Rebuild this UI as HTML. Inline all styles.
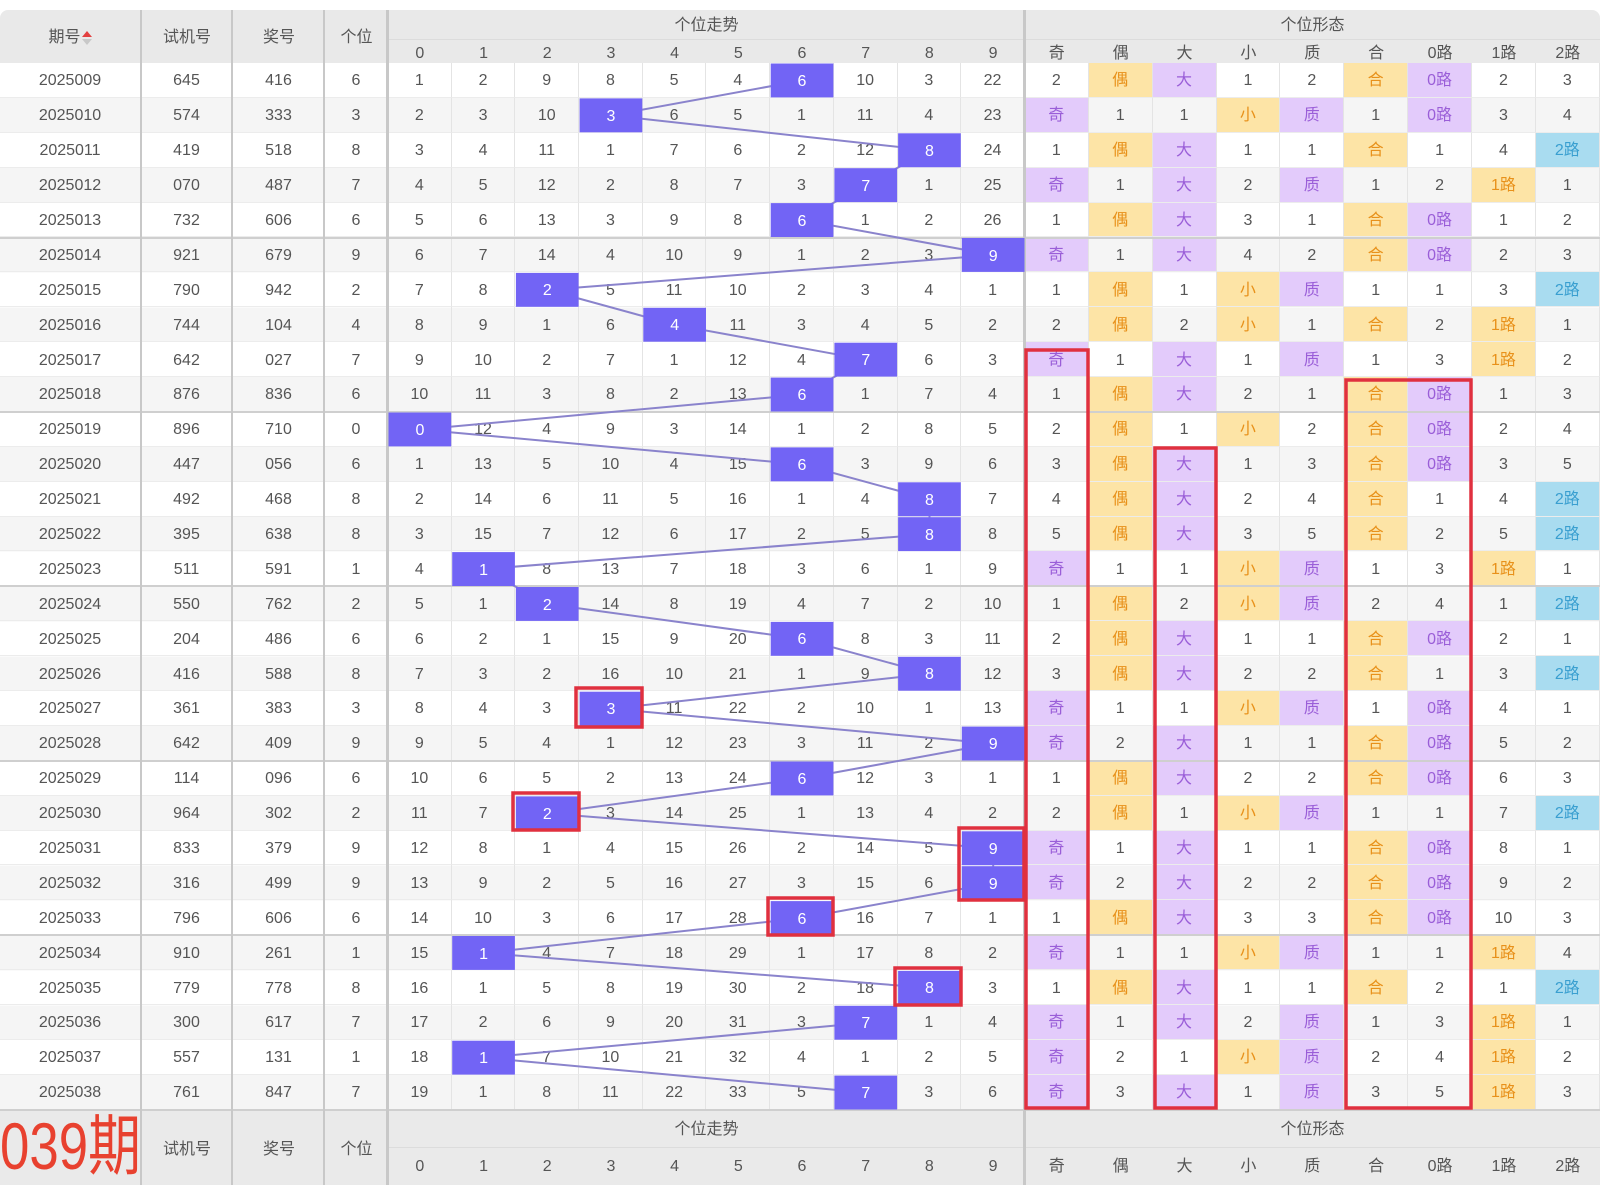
<!DOCTYPE html>
<html><head><meta charset="utf-8">
<style>
*{margin:0;padding:0;box-sizing:border-box}
body{width:1600px;height:1192px;background:#fff;position:relative;overflow:hidden;font-family:"Liberation Sans","Noto Sans CJK SC",sans-serif;color:#555;font-size:16px;line-height:20px}
.hd{position:absolute;left:0;top:10px;width:1600px;height:53px;background:#e9e9e9;border-radius:8px 8px 0 0}
.t{position:absolute;text-align:center;white-space:nowrap}
#g{position:absolute;left:0;top:63px;width:1600px;display:grid;grid-template-columns:141px 92px 92px 63px repeat(10,63.7px) repeat(9,63.889px);grid-auto-rows:34.9px;background:repeating-linear-gradient(#fff 0,#fff 34.9px,#f5f5f5 34.9px,#f5f5f5 69.8px)}
#g i{font-style:normal;display:flex;align-items:center;justify-content:center;padding-top:3px;border-right:1px solid #e4e4e4;border-bottom:1px solid #ececec}
#g i.p{background:#e3cbfb;color:#9a5ed8}
#g i.y{background:#fde4a6;color:#e8911a}
#g i.b{background:#a9dcf0;color:#3a9fd0}
.vl{position:absolute;width:2px;background:#c8c8c8}
.hl{position:absolute;left:0;width:1600px;height:2px;background:#cfcfcf}
.ft{position:absolute;left:0;top:1111px;width:1600px;height:74px;background:#eaeaea}
.hg{position:absolute;left:388px;width:1212px;display:grid;grid-template-columns:repeat(10,63.7px) repeat(9,63.889px);text-align:center}
</style></head><body>
<div class="hd"></div>
<div class="t" style="left:0;width:141px;top:28px">期号<span style="display:inline-block;width:12px;height:14px;position:relative;vertical-align:middle"><span style="position:absolute;left:1px;top:0;border:5px solid transparent;border-bottom:6px solid #e34040;border-top:0"></span><span style="position:absolute;left:1px;top:8px;border:5px solid transparent;border-top:6px solid #c8c8c8;border-bottom:0"></span></span></div>
<div class="t" style="left:141px;width:92px;top:28px">试机号</div>
<div class="t" style="left:233px;width:92px;top:28px">奖号</div>
<div class="t" style="left:325px;width:63px;top:28px">个位</div>
<div class="t" style="left:388px;width:637px;top:16px">个位走势</div>
<div class="t" style="left:1025px;width:575px;top:16px">个位形态</div>
<div style="position:absolute;left:388px;top:39px;width:1212px;height:1px;background:#dcdcdc"></div>
<div class="hg" style="top:44px">
<div>0</div><div>1</div><div>2</div><div>3</div><div>4</div><div>5</div><div>6</div><div>7</div><div>8</div><div>9</div><div>奇</div><div>偶</div><div>大</div><div>小</div><div>质</div><div>合</div><div>0路</div><div>1路</div><div>2路</div>
</div>
<div id="g">
<i>2025009</i><i>645</i><i>416</i><i>6</i><i>1</i><i>2</i><i>9</i><i>8</i><i>5</i><i>4</i><i></i><i>10</i><i>3</i><i>22</i><i>2</i><i class=y>偶</i><i class=p>大</i><i>1</i><i>2</i><i class=y>合</i><i class=p>0路</i><i>2</i><i>3</i>
<i>2025010</i><i>574</i><i>333</i><i>3</i><i>2</i><i>3</i><i>10</i><i></i><i>6</i><i>5</i><i>1</i><i>11</i><i>4</i><i>23</i><i class=p>奇</i><i>1</i><i>1</i><i class=y>小</i><i class=p>质</i><i>1</i><i class=p>0路</i><i>3</i><i>4</i>
<i>2025011</i><i>419</i><i>518</i><i>8</i><i>3</i><i>4</i><i>11</i><i>1</i><i>7</i><i>6</i><i>2</i><i>12</i><i></i><i>24</i><i>1</i><i class=y>偶</i><i class=p>大</i><i>1</i><i>1</i><i class=y>合</i><i>1</i><i>4</i><i class=b>2路</i>
<i>2025012</i><i>070</i><i>487</i><i>7</i><i>4</i><i>5</i><i>12</i><i>2</i><i>8</i><i>7</i><i>3</i><i></i><i>1</i><i>25</i><i class=p>奇</i><i>1</i><i class=p>大</i><i>2</i><i class=p>质</i><i>1</i><i>2</i><i class=y>1路</i><i>1</i>
<i>2025013</i><i>732</i><i>606</i><i>6</i><i>5</i><i>6</i><i>13</i><i>3</i><i>9</i><i>8</i><i></i><i>1</i><i>2</i><i>26</i><i>1</i><i class=y>偶</i><i class=p>大</i><i>3</i><i>1</i><i class=y>合</i><i class=p>0路</i><i>1</i><i>2</i>
<i>2025014</i><i>921</i><i>679</i><i>9</i><i>6</i><i>7</i><i>14</i><i>4</i><i>10</i><i>9</i><i>1</i><i>2</i><i>3</i><i></i><i class=p>奇</i><i>1</i><i class=p>大</i><i>4</i><i>2</i><i class=y>合</i><i class=p>0路</i><i>2</i><i>3</i>
<i>2025015</i><i>790</i><i>942</i><i>2</i><i>7</i><i>8</i><i></i><i>5</i><i>11</i><i>10</i><i>2</i><i>3</i><i>4</i><i>1</i><i>1</i><i class=y>偶</i><i>1</i><i class=y>小</i><i class=p>质</i><i>1</i><i>1</i><i>3</i><i class=b>2路</i>
<i>2025016</i><i>744</i><i>104</i><i>4</i><i>8</i><i>9</i><i>1</i><i>6</i><i></i><i>11</i><i>3</i><i>4</i><i>5</i><i>2</i><i>2</i><i class=y>偶</i><i>2</i><i class=y>小</i><i>1</i><i class=y>合</i><i>2</i><i class=y>1路</i><i>1</i>
<i>2025017</i><i>642</i><i>027</i><i>7</i><i>9</i><i>10</i><i>2</i><i>7</i><i>1</i><i>12</i><i>4</i><i></i><i>6</i><i>3</i><i class=p>奇</i><i>1</i><i class=p>大</i><i>1</i><i class=p>质</i><i>1</i><i>3</i><i class=y>1路</i><i>2</i>
<i>2025018</i><i>876</i><i>836</i><i>6</i><i>10</i><i>11</i><i>3</i><i>8</i><i>2</i><i>13</i><i></i><i>1</i><i>7</i><i>4</i><i>1</i><i class=y>偶</i><i class=p>大</i><i>2</i><i>1</i><i class=y>合</i><i class=p>0路</i><i>1</i><i>3</i>
<i>2025019</i><i>896</i><i>710</i><i>0</i><i></i><i>12</i><i>4</i><i>9</i><i>3</i><i>14</i><i>1</i><i>2</i><i>8</i><i>5</i><i>2</i><i class=y>偶</i><i>1</i><i class=y>小</i><i>2</i><i class=y>合</i><i class=p>0路</i><i>2</i><i>4</i>
<i>2025020</i><i>447</i><i>056</i><i>6</i><i>1</i><i>13</i><i>5</i><i>10</i><i>4</i><i>15</i><i></i><i>3</i><i>9</i><i>6</i><i>3</i><i class=y>偶</i><i class=p>大</i><i>1</i><i>3</i><i class=y>合</i><i class=p>0路</i><i>3</i><i>5</i>
<i>2025021</i><i>492</i><i>468</i><i>8</i><i>2</i><i>14</i><i>6</i><i>11</i><i>5</i><i>16</i><i>1</i><i>4</i><i></i><i>7</i><i>4</i><i class=y>偶</i><i class=p>大</i><i>2</i><i>4</i><i class=y>合</i><i>1</i><i>4</i><i class=b>2路</i>
<i>2025022</i><i>395</i><i>638</i><i>8</i><i>3</i><i>15</i><i>7</i><i>12</i><i>6</i><i>17</i><i>2</i><i>5</i><i></i><i>8</i><i>5</i><i class=y>偶</i><i class=p>大</i><i>3</i><i>5</i><i class=y>合</i><i>2</i><i>5</i><i class=b>2路</i>
<i>2025023</i><i>511</i><i>591</i><i>1</i><i>4</i><i></i><i>8</i><i>13</i><i>7</i><i>18</i><i>3</i><i>6</i><i>1</i><i>9</i><i class=p>奇</i><i>1</i><i>1</i><i class=y>小</i><i class=p>质</i><i>1</i><i>3</i><i class=y>1路</i><i>1</i>
<i>2025024</i><i>550</i><i>762</i><i>2</i><i>5</i><i>1</i><i></i><i>14</i><i>8</i><i>19</i><i>4</i><i>7</i><i>2</i><i>10</i><i>1</i><i class=y>偶</i><i>2</i><i class=y>小</i><i class=p>质</i><i>2</i><i>4</i><i>1</i><i class=b>2路</i>
<i>2025025</i><i>204</i><i>486</i><i>6</i><i>6</i><i>2</i><i>1</i><i>15</i><i>9</i><i>20</i><i></i><i>8</i><i>3</i><i>11</i><i>2</i><i class=y>偶</i><i class=p>大</i><i>1</i><i>1</i><i class=y>合</i><i class=p>0路</i><i>2</i><i>1</i>
<i>2025026</i><i>416</i><i>588</i><i>8</i><i>7</i><i>3</i><i>2</i><i>16</i><i>10</i><i>21</i><i>1</i><i>9</i><i></i><i>12</i><i>3</i><i class=y>偶</i><i class=p>大</i><i>2</i><i>2</i><i class=y>合</i><i>1</i><i>3</i><i class=b>2路</i>
<i>2025027</i><i>361</i><i>383</i><i>3</i><i>8</i><i>4</i><i>3</i><i></i><i>11</i><i>22</i><i>2</i><i>10</i><i>1</i><i>13</i><i class=p>奇</i><i>1</i><i>1</i><i class=y>小</i><i class=p>质</i><i>1</i><i class=p>0路</i><i>4</i><i>1</i>
<i>2025028</i><i>642</i><i>409</i><i>9</i><i>9</i><i>5</i><i>4</i><i>1</i><i>12</i><i>23</i><i>3</i><i>11</i><i>2</i><i></i><i class=p>奇</i><i>2</i><i class=p>大</i><i>1</i><i>1</i><i class=y>合</i><i class=p>0路</i><i>5</i><i>2</i>
<i>2025029</i><i>114</i><i>096</i><i>6</i><i>10</i><i>6</i><i>5</i><i>2</i><i>13</i><i>24</i><i></i><i>12</i><i>3</i><i>1</i><i>1</i><i class=y>偶</i><i class=p>大</i><i>2</i><i>2</i><i class=y>合</i><i class=p>0路</i><i>6</i><i>3</i>
<i>2025030</i><i>964</i><i>302</i><i>2</i><i>11</i><i>7</i><i></i><i>3</i><i>14</i><i>25</i><i>1</i><i>13</i><i>4</i><i>2</i><i>2</i><i class=y>偶</i><i>1</i><i class=y>小</i><i class=p>质</i><i>1</i><i>1</i><i>7</i><i class=b>2路</i>
<i>2025031</i><i>833</i><i>379</i><i>9</i><i>12</i><i>8</i><i>1</i><i>4</i><i>15</i><i>26</i><i>2</i><i>14</i><i>5</i><i></i><i class=p>奇</i><i>1</i><i class=p>大</i><i>1</i><i>1</i><i class=y>合</i><i class=p>0路</i><i>8</i><i>1</i>
<i>2025032</i><i>316</i><i>499</i><i>9</i><i>13</i><i>9</i><i>2</i><i>5</i><i>16</i><i>27</i><i>3</i><i>15</i><i>6</i><i></i><i class=p>奇</i><i>2</i><i class=p>大</i><i>2</i><i>2</i><i class=y>合</i><i class=p>0路</i><i>9</i><i>2</i>
<i>2025033</i><i>796</i><i>606</i><i>6</i><i>14</i><i>10</i><i>3</i><i>6</i><i>17</i><i>28</i><i></i><i>16</i><i>7</i><i>1</i><i>1</i><i class=y>偶</i><i class=p>大</i><i>3</i><i>3</i><i class=y>合</i><i class=p>0路</i><i>10</i><i>3</i>
<i>2025034</i><i>910</i><i>261</i><i>1</i><i>15</i><i></i><i>4</i><i>7</i><i>18</i><i>29</i><i>1</i><i>17</i><i>8</i><i>2</i><i class=p>奇</i><i>1</i><i>1</i><i class=y>小</i><i class=p>质</i><i>1</i><i>1</i><i class=y>1路</i><i>4</i>
<i>2025035</i><i>779</i><i>778</i><i>8</i><i>16</i><i>1</i><i>5</i><i>8</i><i>19</i><i>30</i><i>2</i><i>18</i><i></i><i>3</i><i>1</i><i class=y>偶</i><i class=p>大</i><i>1</i><i>1</i><i class=y>合</i><i>2</i><i>1</i><i class=b>2路</i>
<i>2025036</i><i>300</i><i>617</i><i>7</i><i>17</i><i>2</i><i>6</i><i>9</i><i>20</i><i>31</i><i>3</i><i></i><i>1</i><i>4</i><i class=p>奇</i><i>1</i><i class=p>大</i><i>2</i><i class=p>质</i><i>1</i><i>3</i><i class=y>1路</i><i>1</i>
<i>2025037</i><i>557</i><i>131</i><i>1</i><i>18</i><i></i><i>7</i><i>10</i><i>21</i><i>32</i><i>4</i><i>1</i><i>2</i><i>5</i><i class=p>奇</i><i>2</i><i>1</i><i class=y>小</i><i class=p>质</i><i>2</i><i>4</i><i class=y>1路</i><i>2</i>
<i>2025038</i><i>761</i><i>847</i><i>7</i><i>19</i><i>1</i><i>8</i><i>11</i><i>22</i><i>33</i><i>5</i><i></i><i>3</i><i>6</i><i class=p>奇</i><i>3</i><i class=p>大</i><i>1</i><i class=p>质</i><i>3</i><i>5</i><i class=y>1路</i><i>3</i>
</div>
<div class="hl" style="top:237px"></div><div class="hl" style="top:411px"></div><div class="hl" style="top:585px"></div><div class="hl" style="top:760px"></div><div class="hl" style="top:934px"></div><div class="hl" style="top:1109px"></div>
<div class="ft"></div>
<div style="position:absolute;left:388px;top:1147px;width:1212px;height:1px;background:#dcdcdc"></div>
<div class="t" style="left:0;width:176px;top:1108px;font-size:66px;line-height:76px;color:#e8412f;transform:scaleX(0.8);transform-origin:0 0;text-align:left">039期</div>
<div class="t" style="left:141px;width:92px;top:1140px">试机号</div>
<div class="t" style="left:233px;width:92px;top:1140px">奖号</div>
<div class="t" style="left:325px;width:63px;top:1140px">个位</div>
<div class="t" style="left:388px;width:637px;top:1120px">个位走势</div>
<div class="t" style="left:1025px;width:575px;top:1120px">个位形态</div>
<div class="hg" style="top:1157px">
<div>0</div><div>1</div><div>2</div><div>3</div><div>4</div><div>5</div><div>6</div><div>7</div><div>8</div><div>9</div><div>奇</div><div>偶</div><div>大</div><div>小</div><div>质</div><div>合</div><div>0路</div><div>1路</div><div>2路</div>
</div>
<div class="vl" style="left:140px;top:10px;height:1175px"></div>
<div class="vl" style="left:231px;top:10px;height:1175px"></div>
<div class="vl" style="left:323px;top:10px;height:1175px"></div>
<div class="vl" style="left:386px;top:10px;height:1175px;width:3px"></div>
<div class="vl" style="left:1023px;top:10px;height:1175px;width:3px"></div>
<svg style="position:absolute;left:0;top:0" width="1600" height="1192">
<polyline fill="none" stroke="#8a83cc" stroke-width="2" points="802,80.5 611,115.4 929.5,150.3 865.8,185.2 802,220 993.2,255 547.3,289.9 674.7,324.8 865.8,359.7 802,394.6 419.9,429.5 802,464.4 929.5,499.3 929.5,534.2 483.6,569.1 547.3,604 802,638.9 929.5,673.8 611,708.7 993.2,743.6 802,778.5 547.3,813.4 993.2,848.3 993.2,883.2 802,918.1 483.6,953 929.5,987.9 865.8,1022.8 483.6,1057.7 865.8,1092.6"/>
<g fill="#7264f5">
<rect x="770.7" y="63.5" width="62.7" height="33.9"/>
<rect x="579.6" y="98.4" width="62.7" height="33.9"/>
<rect x="898.1" y="133.3" width="62.7" height="33.9"/>
<rect x="834.4" y="168.2" width="62.7" height="33.9"/>
<rect x="770.7" y="203.1" width="62.7" height="33.9"/>
<rect x="961.8" y="238" width="62.7" height="33.9"/>
<rect x="515.9" y="272.9" width="62.7" height="33.9"/>
<rect x="643.3" y="307.8" width="62.7" height="33.9"/>
<rect x="834.4" y="342.7" width="62.7" height="33.9"/>
<rect x="770.7" y="377.6" width="62.7" height="33.9"/>
<rect x="388.5" y="412.5" width="62.7" height="33.9"/>
<rect x="770.7" y="447.4" width="62.7" height="33.9"/>
<rect x="898.1" y="482.3" width="62.7" height="33.9"/>
<rect x="898.1" y="517.2" width="62.7" height="33.9"/>
<rect x="452.2" y="552.1" width="62.7" height="33.9"/>
<rect x="515.9" y="587" width="62.7" height="33.9"/>
<rect x="770.7" y="621.9" width="62.7" height="33.9"/>
<rect x="898.1" y="656.8" width="62.7" height="33.9"/>
<rect x="579.6" y="691.7" width="62.7" height="33.9"/>
<rect x="961.8" y="726.6" width="62.7" height="33.9"/>
<rect x="770.7" y="761.5" width="62.7" height="33.9"/>
<rect x="515.9" y="796.4" width="62.7" height="33.9"/>
<rect x="961.8" y="831.3" width="62.7" height="33.9"/>
<rect x="961.8" y="866.2" width="62.7" height="33.9"/>
<rect x="770.7" y="901.1" width="62.7" height="33.9"/>
<rect x="452.2" y="936" width="62.7" height="33.9"/>
<rect x="898.1" y="970.9" width="62.7" height="33.9"/>
<rect x="834.4" y="1005.8" width="62.7" height="33.9"/>
<rect x="452.2" y="1040.7" width="62.7" height="33.9"/>
<rect x="834.4" y="1075.6" width="62.7" height="33.9"/>
</g>
<g fill="#fff" font-family="Liberation Sans, sans-serif" font-size="16" text-anchor="middle">
<text x="802" y="86">6</text><text x="611" y="121">3</text><text x="929.5" y="156">8</text><text x="865.8" y="191">7</text><text x="802" y="226">6</text><text x="993.2" y="261">9</text><text x="547.3" y="295">2</text><text x="674.7" y="330">4</text><text x="865.8" y="365">7</text><text x="802" y="400">6</text><text x="419.9" y="435">0</text><text x="802" y="470">6</text><text x="929.5" y="505">8</text><text x="929.5" y="540">8</text><text x="483.6" y="575">1</text><text x="547.3" y="610">2</text><text x="802" y="644">6</text><text x="929.5" y="679">8</text><text x="611" y="714">3</text><text x="993.2" y="749">9</text><text x="802" y="784">6</text><text x="547.3" y="819">2</text><text x="993.2" y="854">9</text><text x="993.2" y="889">9</text><text x="802" y="924">6</text><text x="483.6" y="959">1</text><text x="929.5" y="993">8</text><text x="865.8" y="1028">7</text><text x="483.6" y="1063">1</text><text x="865.8" y="1098">7</text>
</g>
<g fill="none" stroke="#e0303f" stroke-width="3.5">
<rect x="576" y="688" width="66" height="39"/>
<rect x="513" y="793" width="66" height="37"/>
<rect x="959" y="828" width="65" height="72"/>
<rect x="768" y="898" width="65" height="37"/>
<rect x="895" y="968" width="66" height="37"/>
<rect x="1026" y="350" width="62" height="758"/>
<rect x="1155" y="448" width="61" height="660"/>
<rect x="1346" y="380" width="125" height="728"/>
</g>
</svg>
</body></html>
